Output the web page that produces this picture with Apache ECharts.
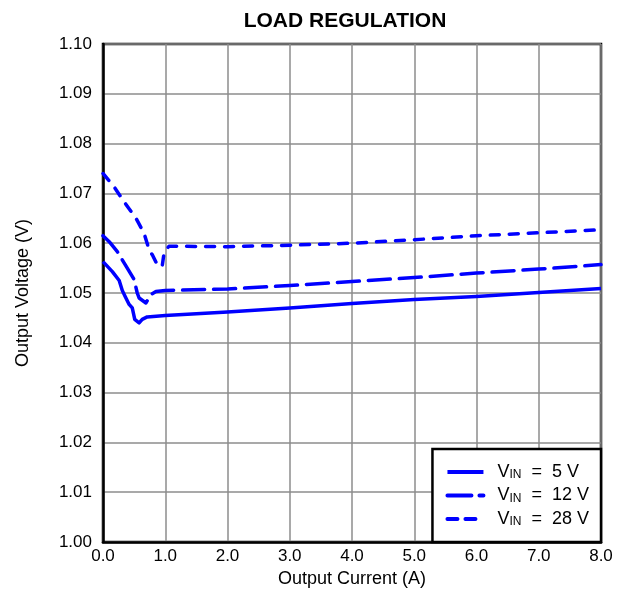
<!DOCTYPE html>
<html>
<head>
<meta charset="utf-8">
<script src="https://cdn.jsdelivr.net/npm/echarts@6/dist/echarts.min.js"></script>
<style>
html,body{margin:0;padding:0;background:#fff;}
#c{width:623px;height:595px;}
</style>
</head>
<body>
<div id="c"></div>
<script>
const xTicks = [0, 1, 2, 3, 4, 5, 6, 7, 8];
const yTicks = [1.00, 1.01, 1.02, 1.03, 1.04, 1.05, 1.06, 1.07, 1.08, 1.09, 1.10];

const x5 = [0, 0.15, 0.26, 0.31, 0.36, 0.42, 0.47, 0.51, 0.58, 0.63, 0.71, 1.0, 2, 3, 4, 5, 6, 7, 8];
const y5 = [1.0563, 1.0543, 1.0525, 1.0505, 1.0492, 1.0477, 1.0470, 1.0447, 1.0440, 1.0447, 1.0452, 1.0455, 1.0462, 1.0470, 1.0479, 1.0487, 1.0493, 1.0501, 1.0509];

const x12 = [0, 0.1, 0.23, 0.39, 0.5, 0.55, 0.58, 0.69, 0.77, 0.85, 1.0, 2, 3, 4, 5, 6, 7, 8];
const y12 = [1.0615, 1.0603, 1.0583, 1.0550, 1.0527, 1.0500, 1.0490, 1.0480, 1.0497, 1.0503, 1.0505, 1.0508, 1.0515, 1.0523, 1.0531, 1.0540, 1.0548, 1.0557];

const x28 = [0, 0.18, 0.34, 0.53, 0.66, 0.74, 0.8, 0.87, 0.95, 0.98, 1.06, 2, 3, 4, 5, 6, 7, 8];
const y28 = [1.0740, 1.0713, 1.0683, 1.0650, 1.0620, 1.0587, 1.0575, 1.0557, 1.0553, 1.0580, 1.0594, 1.0593, 1.0596, 1.0600, 1.0607, 1.0615, 1.0621, 1.0627];

const names = ['5 V', '12 V', '28 V'];

function pairs(xs, ys) { return xs.map((x, i) => [x, ys[i]]); }

const FONT = '"Liberation Sans", Arial, sans-serif';
const BLUE = '#0000ff';
const chart = echarts.init(document.getElementById('c'), null, {renderer: 'canvas'});

function legendLabel(n) {
  return '{v|V}{s|IN}{v|  =  ' + n + '}';
}

chart.setOption({
  animation: false,
  backgroundColor: '#fff',
  title: {
    text: 'LOAD REGULATION',
    left: 340, top: 6, textAlign: 'center',
    textStyle: {fontFamily: FONT, fontSize: 21, fontWeight: 'bold', color: '#000'}
  },
  grid: {
    left: 103, right: 22, top: 44, bottom: 53,
    show: true, borderColor: '#000', borderWidth: 2.5, backgroundColor: 'transparent'
  },
  legend: {
    orient: 'vertical',
    right: 22, bottom: 53,
    padding: [12, 12, 14, 13],
    backgroundColor: '#fff',
    borderColor: '#000', borderWidth: 2.5,
    itemWidth: 36, itemHeight: 14, itemGap: 3.5,
    itemStyle: {opacity: 0},
    data: [
      {name: names[0], lineStyle: {type: 'solid', width: 4}},
      {name: names[1], lineStyle: {type: [24, 8, 4, 8], width: 4, cap: 'round'}},
      {name: names[2], lineStyle: {type: [10, 8], width: 4, cap: 'round'}}
    ],
    formatter: legendLabel,
    textStyle: {
      fontFamily: FONT, fontSize: 18, color: '#000', padding: [0, 0, 0, 9],
      rich: {
        v: {fontFamily: FONT, fontSize: 18, color: '#000', lineHeight: 18},
        s: {fontFamily: FONT, fontSize: 12, color: '#000', verticalAlign: 'bottom', lineHeight: 12, padding: [8, 0, 0, 0]}
      }
    }
  },
  xAxis: {
    type: 'value', min: 0, max: 8, interval: 1,
    name: 'Output Current (A)', nameLocation: 'middle', nameGap: 28,
    nameTextStyle: {fontFamily: FONT, fontSize: 18, color: '#000'},
    axisLine: {show: true, onZero: false, lineStyle: {color: '#000', width: 2.5}},
    axisTick: {show: false},
    axisLabel: {fontFamily: FONT, fontSize: 17, color: '#000', margin: 6,
      formatter: v => (Math.round(v * 10) / 10).toFixed(1)},
    splitLine: {show: true, lineStyle: {color: '#8c8c8c', width: 1.5}}
  },
  yAxis: {
    type: 'value', min: 1.00, max: 1.10, interval: 0.01,
    name: 'Output Voltage (V)', nameLocation: 'middle', nameGap: 71,
    nameTextStyle: {fontFamily: FONT, fontSize: 18, color: '#000'},
    axisLine: {show: true, onZero: false, lineStyle: {color: '#000', width: 2.5}},
    axisTick: {show: false},
    axisLabel: {fontFamily: FONT, fontSize: 17, color: '#000', margin: 11,
      formatter: v => (Math.round(v * 100) / 100).toFixed(2)},
    splitLine: {show: true, lineStyle: {color: '#8c8c8c', width: 1.5}}
  },
  series: [
    {name: names[0], type: 'line', data: pairs(x5, y5), showSymbol: false, symbol: 'none',
      lineStyle: {color: BLUE, width: 3.5, type: 'solid', join: 'round'}, itemStyle: {color: BLUE}},
    {name: names[1], type: 'line', data: pairs(x12, y12), showSymbol: false, symbol: 'none',
      lineStyle: {color: BLUE, width: 3.5, type: [22, 9], cap: 'round', join: 'round'}, itemStyle: {color: BLUE}},
    {name: names[2], type: 'line', data: pairs(x28, y28), showSymbol: false, symbol: 'none',
      lineStyle: {color: BLUE, width: 3.5, type: [9, 10], cap: 'round', join: 'round'}, itemStyle: {color: BLUE}}
  ]
});
</script>
</body>
</html>
